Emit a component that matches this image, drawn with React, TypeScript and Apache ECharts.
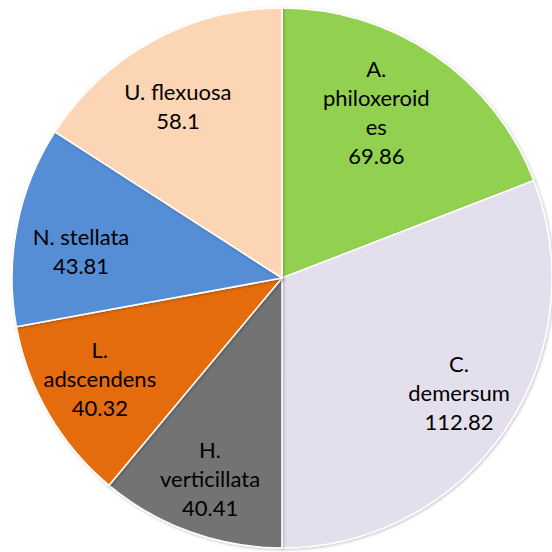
import React, { useEffect, useRef } from "react";
import * as echarts from "echarts";

const names = [
  "A. philoxeroides",
  "C. demersum",
  "H. verticillata",
  "L. adscendens",
  "N. stellata",
  "U. flexuosa",
];
const values = [69.86, 112.82, 40.41, 40.32, 43.81, 58.1];
const labelText = [
  "A.\nphiloxeroid\nes",
  "C.\ndemersum",
  "H.\nverticillata",
  "L.\nadscendens",
  "N. stellata",
  "U. flexuosa",
];
const colors = ["#92D050", "#E4DFEC", "#737373", "#E46C0A", "#558ED5", "#FCD5B5"];

// small label nudges to mimic the original's best-fit placement
const labelNudge: number[][] = [
  [-25, 8],
  [3, -5],
  [0, 2],
  [0, -6],
  [6, 14],
  [-3, 13],
];

export default function App() {
  const ref = useRef<HTMLDivElement>(null);
  useEffect(() => {
    document.body.style.margin = "0";
    const chart = echarts.init(ref.current!, null, { renderer: "svg" });
    const center = [282, 278];
    chart.setOption({
      animation: false,
      backgroundColor: "#ffffff",
      series: [
        {
          type: "pie",
          center,
          radius: 270,
          startAngle: 90,
          clockwise: true,
          silent: true,
          label: { show: false },
          labelLine: { show: false },
          itemStyle: {
            borderColor: "#ffffff",
            borderWidth: 1.5,
            shadowBlur: 3,
            shadowColor: "rgba(0,0,0,0.25)",
            shadowOffsetX: 1,
            shadowOffsetY: 1,
          },
          data: names.map((n, i) => ({
            name: n,
            value: values[i],
            itemStyle: { color: colors[i] },
          })),
        },
        {
          type: "pie",
          center,
          radius: [146, 270],
          startAngle: 90,
          clockwise: true,
          silent: true,
          z: 5,
          itemStyle: { color: "rgba(0,0,0,0)" },
          labelLine: { show: false },
          label: {
            show: true,
            position: "inside",
            fontFamily: "Lato",
            fontSize: 22,
            lineHeight: 29,
            color: "#000000",
            align: "center",
            formatter: (p: any) => labelText[p.dataIndex] + "\n" + values[p.dataIndex],
          },
          data: names.map((n, i) => ({
            name: n,
            value: values[i],
            label: { offset: labelNudge[i] },
          })),
        },
      ],
    });
    return () => chart.dispose();
  }, []);
  return <div ref={ref} style={{ width: 552, height: 552 }} />;
}
